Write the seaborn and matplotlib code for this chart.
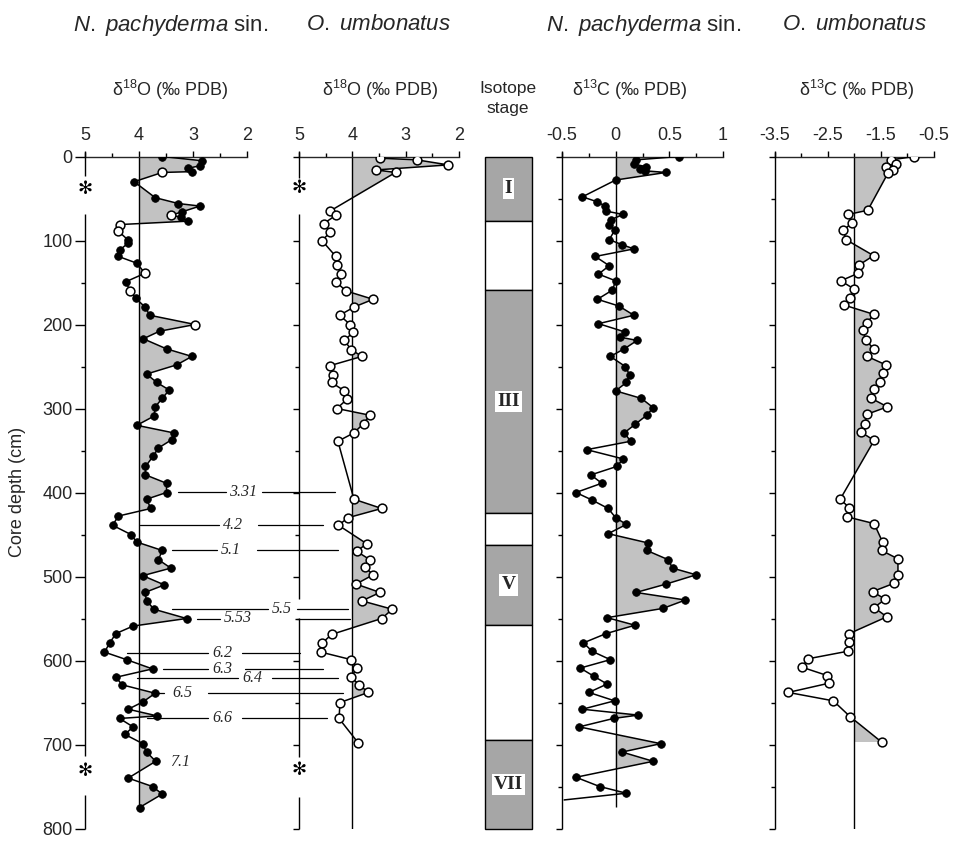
import numpy as np
import pandas as pd
import matplotlib
matplotlib.use("Agg")
import matplotlib.pyplot as plt
import seaborn as sns
from matplotlib.lines import Line2D
from matplotlib.transforms import blended_transform_factory

# ---------------- data ----------------
# N. pachyderma sin. delta18O (depth cm, permil PDB)
np18_depth = [0, 5, 11, 14, 18, 19, 30, 49, 56, 59,
              66, 70, 72, 77, 81, 89, 99, 103, 111, 119,
              127, 139, 149, 160, 169, 179, 189, 200, 208, 217,
              229, 238, 248, 259, 269, 278, 288, 298, 309, 320,
              329, 337, 347, 357, 369, 379, 389, 400, 408, 419,
              428, 439, 450, 459, 469, 480, 490, 499, 510, 519,
              529, 539, 550, 559, 568, 579, 590, 599, 610, 620,
              629, 639, 649, 658, 666, 669, 679, 688, 699, 709,
              720, 740, 750, 759, 775]
np18_value = [3.57, 2.84, 2.87, 3.09, 3.01, 3.57, 4.09, 3.70, 3.27, 2.87,
              3.21, 3.41, 3.22, 3.10, 4.35, 4.38, 4.21, 4.20, 4.35, 4.38,
              4.04, 3.89, 4.24, 4.17, 4.06, 3.89, 3.80, 2.96, 3.62, 3.92,
              3.49, 3.02, 3.30, 3.86, 3.67, 3.44, 3.57, 3.70, 3.72, 4.04,
              3.36, 3.39, 3.64, 3.74, 3.88, 3.88, 3.49, 3.49, 3.86, 3.78,
              4.38, 4.49, 4.15, 4.04, 3.57, 3.64, 3.41, 3.93, 3.53, 3.89,
              3.86, 3.72, 3.12, 4.11, 4.43, 4.54, 4.64, 4.23, 3.75, 4.43,
              4.31, 3.70, 3.92, 4.20, 3.66, 4.36, 4.11, 4.26, 3.93, 3.86,
              3.69, 4.20, 3.75, 3.57, 3.99]
np18_open_depths = [19, 70, 81, 89, 139, 160, 200]

# O. umbonatus delta18O
ou18_depth = [2, 4, 10, 16, 19, 65, 70, 80, 90, 100,
              119, 129, 140, 149, 160, 170, 179, 189, 200, 209,
              219, 230, 238, 249, 260, 269, 279, 289, 300, 308,
              318, 329, 339, 408, 419, 430, 439, 461, 470, 480,
              489, 498, 509, 519, 529, 539, 550, 569, 579, 590,
              599, 609, 620, 629, 638, 650, 669, 698]
ou18_value = [3.48, 2.79, 2.20, 3.56, 3.19, 4.42, 4.31, 4.54, 4.41, 4.57,
              4.31, 4.28, 4.21, 4.31, 4.12, 3.61, 3.96, 4.24, 4.04, 3.98,
              4.15, 4.02, 3.82, 4.42, 4.36, 4.39, 4.15, 4.10, 4.29, 3.67,
              3.79, 3.97, 4.27, 3.97, 3.45, 4.08, 4.26, 3.73, 3.92, 3.67,
              3.76, 3.61, 3.93, 3.48, 3.82, 3.25, 3.45, 4.39, 4.56, 4.59,
              4.02, 3.92, 4.02, 3.87, 3.70, 4.23, 4.25, 3.89]

# N. pachyderma sin. delta13C (last value: line end without symbol)
np13_depth = [0, 4, 9, 12, 15, 17, 19, 28, 48, 54,
              59, 65, 69, 75, 81, 88, 99, 105, 110, 119,
              130, 140, 148, 159, 170, 178, 189, 199, 209, 215,
              219, 229, 238, 250, 260, 269, 279, 288, 299, 308,
              319, 329, 339, 349, 360, 369, 379, 389, 400, 409,
              419, 430, 438, 449, 460, 469, 480, 490, 498, 509,
              519, 528, 538, 549, 558, 568, 579, 589, 599, 609,
              619, 628, 638, 648, 658, 665, 669, 679, 699, 709,
              720, 739, 750, 758, 766]
np13_value = [0.59, 0.19, 0.17, 0.28, 0.23, 0.27, 0.47, 0.00, -0.31, -0.17,
              -0.10, -0.09, 0.07, -0.04, -0.06, -0.01, -0.06, 0.06, 0.17, -0.19,
              -0.06, -0.16, 0.00, -0.03, -0.17, 0.03, 0.17, -0.16, 0.09, 0.04,
              0.20, 0.08, -0.05, 0.09, 0.13, 0.10, 0.00, 0.24, 0.35, 0.29,
              0.18, 0.08, 0.14, -0.27, 0.07, 0.01, -0.23, -0.13, -0.37, -0.22,
              -0.07, 0.00, 0.10, -0.07, 0.30, 0.29, 0.49, 0.53, 0.75, 0.47,
              0.19, 0.65, 0.44, -0.08, 0.18, -0.09, -0.30, -0.22, -0.05, -0.33,
              -0.20, -0.08, -0.25, -0.01, -0.31, 0.21, -0.02, -0.34, 0.42, 0.06,
              0.35, -0.37, -0.15, 0.10, -0.48]

# O. umbonatus delta13C
ou13_depth = [0, 4, 9, 12, 16, 20, 64, 69, 79, 88,
              99, 118, 129, 139, 148, 158, 168, 177, 188, 198,
              207, 218, 229, 238, 248, 258, 268, 277, 288, 298,
              307, 318, 328, 338, 408, 418, 429, 437, 459, 469,
              479, 498, 508, 518, 527, 537, 548, 568, 578, 589,
              598, 608, 618, 627, 638, 648, 667, 697]
ou13_value = [-0.87, -1.31, -1.22, -1.41, -1.28, -1.37, -1.75, -2.12, -2.05, -2.21,
              -2.16, -1.64, -1.91, -1.93, -2.26, -2.00, -2.08, -2.19, -1.63, -1.77,
              -1.84, -1.79, -1.64, -1.76, -1.41, -1.46, -1.52, -1.63, -1.68, -1.38,
              -1.77, -1.80, -1.88, -1.63, -2.27, -2.10, -2.14, -1.63, -1.47, -1.49,
              -1.18, -1.18, -1.25, -1.66, -1.42, -1.63, -1.39, -2.10, -2.10, -2.13,
              -2.88, -2.99, -2.51, -2.48, -3.25, -2.40, -2.08, -1.49]

# isotope stages
stage_names = ["I", "II", "III", "IV", "V", "VI", "VII"]
stage_top = [0, 77, 159, 424, 462, 558, 695]
stage_bottom = [77, 159, 424, 462, 558, 695, 800]
stage_glacial = [True, False, True, False, True, False, True]

# correlation (substage) labels
corr_labels = ["3.31", "4.2", "5.1", "5.5", "5.53", "6.2", "6.3", "6.4", "6.5", "6.6", "7.1"]
corr_depths = [399, 439, 469, 539, 550, 591, 610, 621, 639, 669, 721]

# tick labels
d18_ticks = [5, 4, 3, 2]
d18_ticklabels = ["5", "4", "3", "2"]
np13_ticks = [-0.5, 0, 0.5, 1]
np13_ticklabels = ["-0.5", "0", "0.5", "1"]
ou13_ticks = [-3.5, -2.5, -1.5, -0.5]
ou13_ticklabels = ["-3.5", "-2.5", "-1.5", "-0.5"]
depth_ticks = [0, 100, 200, 300, 400, 500, 600, 700, 800]
depth_ticklabels = ["0", "100", "200", "300", "400", "500", "600", "700", "800"]

# ---------------- style ----------------
sns.set_theme(style="ticks")
plt.rcParams['font.family'] = ['Liberation Sans', 'DejaVu Sans']
plt.rcParams['mathtext.fontset'] = 'custom'
plt.rcParams['mathtext.rm'] = 'Liberation Sans'
plt.rcParams['mathtext.it'] = 'Liberation Sans:italic'
plt.rcParams['mathtext.bf'] = 'Liberation Sans:bold'
plt.rcParams['axes.unicode_minus'] = False

FILL = '#c2c2c2'
STAGE = '#a6a6a6'

W, H = 954, 843
Y0, Y1 = 156.5, 828.5
fig = plt.figure(figsize=(W / 100, H / 100), dpi=100)


def add_px_axes(x0, x1):
    return fig.add_axes([x0 / W, 1 - Y1 / H, (x1 - x0) / W, (Y1 - Y0) / H])


def ftext(x, y, s, **kw):
    ha = kw.pop('ha', 'center')
    va = kw.pop('va', 'center')
    fig.text(x / W, 1 - y / H, s, ha=ha, va=va, **kw)


def draw_panel(ax, depth, value, ref, ref_end, xlim, ticks, ticklabels, minor,
               open_mask, spine_segments, asterisks, ytick_major, ytick_minor,
               show_ylabels=False, ymajor_len=4, marked=None):
    depth = np.asarray(depth, float)
    value = np.asarray(value, float)
    if marked is None:
        marked = np.ones(len(depth), bool)
    if xlim[0] > xlim[1]:
        where = value <= ref
    else:
        where = value >= ref
    ax.fill_betweenx(depth, ref, value, where=where, interpolate=True,
                     facecolor=FILL, edgecolor='none', lw=0, zorder=1)
    ax.vlines(ref, 0, ref_end, color='black', lw=1.0, zorder=2)
    sns.lineplot(x=value, y=depth, sort=False, estimator=None, color='black',
                 lw=1.1, ax=ax, zorder=3)
    filled = marked & ~open_mask
    opened = marked & open_mask
    if filled.any():
        sns.scatterplot(x=value[filled], y=depth[filled], ax=ax, s=30,
                        color='black', edgecolor='black', linewidth=0.6, zorder=4)
    if opened.any():
        sns.scatterplot(x=value[opened], y=depth[opened], ax=ax, s=40,
                        color='white', edgecolor='black', linewidth=1.1, zorder=5)
    ax.set_xlim(*xlim)
    ax.set_ylim(800, 0)
    ax.set_xlabel('')
    ax.set_ylabel('')
    for s in ['left', 'right', 'bottom']:
        ax.spines[s].set_visible(False)
    ax.spines['top'].set_visible(True)
    ax.spines['top'].set_linewidth(1.0)
    ax.patch.set_alpha(0)
    ax.xaxis.tick_top()
    ax.set_xticks(ticks)
    ax.set_xticklabels(ticklabels)
    ax.set_xticks(minor, minor=True)
    ax.tick_params(axis='x', which='major', top=True, bottom=False, direction='out',
                   length=4, width=1, labelsize=13, pad=5, labeltop=True,
                   labelbottom=False, color='black')
    ax.tick_params(axis='x', which='minor', top=True, bottom=False, direction='out',
                   length=3, width=1, color='black')
    ax.set_yticks(ytick_major)
    ax.set_yticks(ytick_minor, minor=True)
    if show_ylabels:
        ax.set_yticklabels(depth_ticklabels)
    else:
        ax.set_yticklabels([''] * len(ytick_major))
    ax.tick_params(axis='y', which='major', left=True, right=False, direction='out',
                   length=ymajor_len, width=1, labelsize=13, pad=2, color='black')
    ax.tick_params(axis='y', which='minor', left=True, right=False, direction='out',
                   length=3, width=1, color='black')
    for a, b in spine_segments:
        ax.plot([xlim[0], xlim[0]], [a, b], color='black', lw=1.0,
                clip_on=False, zorder=6, solid_capstyle='butt')
    for d in asterisks:
        ax.text(xlim[0], d, '\u273B', ha='center', va='center', fontsize=13,
                family='DejaVu Sans', color='black')
    ax.set_xlim(*xlim)
    ax.set_ylim(800, 0)


# ---------------- panels ----------------
ax1 = add_px_axes(85, 247)
draw_panel(ax1, np18_depth, np18_value, 4, 775, (5, 2), d18_ticks, d18_ticklabels,
           [4.5, 3.5, 2.5], np.isin(np18_depth, np18_open_depths),
           [(-5, 23), (69, 714), (760, 800)], [39, 731],
           depth_ticks, [150, 250, 350, 450, 550, 650],
           show_ylabels=True, ymajor_len=7)

ax2 = add_px_axes(299, 459)
draw_panel(ax2, ou18_depth, ou18_value, 4, 800, (5, 2), d18_ticks, d18_ticklabels,
           [4.5, 3.5, 2.5], np.ones(len(ou18_depth), bool),
           [(-5, 25), (69, 527), (549, 715), (762, 800)], [37, 730],
           depth_ticks, [150, 250, 350, 450, 550, 650])

ax4 = add_px_axes(562, 723)
np13_marked = np.arange(len(np13_depth)) < len(np13_depth) - 1
draw_panel(ax4, np13_depth, np13_value, 0, 774, (-0.5, 1), np13_ticks, np13_ticklabels,
           [-0.25, 0.25, 0.75], np.zeros(len(np13_depth), bool),
           [(-5, 800)], [], depth_ticks, list(range(50, 800, 100)),
           marked=np13_marked)

ax5 = add_px_axes(775, 934)
draw_panel(ax5, ou13_depth, ou13_value, -2, 800, (-3.5, -0.5), ou13_ticks, ou13_ticklabels,
           [-3.0, -2.0, -1.0], np.ones(len(ou13_depth), bool),
           [(-5, 800)], [], depth_ticks, list(range(50, 800, 100)))

# isotope stage column
axs = add_px_axes(485, 532)
heights = np.subtract(stage_bottom, stage_top)
cols = [STAGE if g else 'white' for g in stage_glacial]
bars = axs.bar(x=0.5, height=heights, bottom=stage_top, width=1.0, color=cols,
               edgecolor='black', linewidth=1.0)
for p in bars.patches:
    p.set_clip_on(False)
axs.set_xlim(0, 1)
axs.set_ylim(800, 0)
axs.axis('off')
for name, t, b, g in zip(stage_names, stage_top, stage_bottom, stage_glacial):
    if g:
        axs.text(0.5, (t + b) / 2, name, ha='center', va='center', fontsize=14,
                 family='Liberation Serif', weight='bold',
                 bbox=dict(facecolor='white', edgecolor='none', pad=1.5))

# correlation lines between panels 1 and 2 (pixel x layout)
tr = blended_transform_factory(fig.transFigure, ax1.transData)
corr_layout = {
    "3.31": ((178, 226), 243, (262, 335)),
    "4.2": ((140, 219), 233, (258, 323)),
    "5.1": ((172, 217), 231, (257, 338)),
    "5.5": ((172, 268), 282, (297, 348)),
    "5.53": ((197, 220), 238, (297, 350)),
    "6.2": ((127, 208), 222, (242, 300)),
    "6.3": ((163, 208), 222, (245, 323)),
    "6.4": ((137, 238), 252, (272, 338)),
    "6.5": ((155, 164), 182, (208, 343)),
    "6.6": ((147, 208), 222, (242, 327)),
    "7.1": (None, 180, None),
}
for lab, d in zip(corr_labels, corr_depths):
    left, tx, right = corr_layout[lab]
    for seg in (left, right):
        if seg is not None:
            fig.add_artist(Line2D([seg[0] / W, seg[1] / W], [d, d], transform=tr,
                                  color='black', lw=0.9, zorder=7))
    fig.text(tx / W, d, lab, transform=tr, ha='center', va='center',
             fontsize=11.5, family='Liberation Serif', style='italic', zorder=8)

# ---------------- text ----------------
ftext(171, 25, r'$\mathit{N.\ pachyderma}$ sin.', fontsize=16)
ftext(379, 25, r'$\mathit{O.\ umbonatus}$', fontsize=16)
ftext(644, 25, r'$\mathit{N.\ pachyderma}$ sin.', fontsize=16)
ftext(855, 25, r'$\mathit{O.\ umbonatus}$', fontsize=16)

ftext(170, 90, 'δ$^{18}$O (‰ PDB)', fontsize=13)
ftext(380, 90, 'δ$^{18}$O (‰ PDB)', fontsize=13)
ftext(630, 90, 'δ$^{13}$C (‰ PDB)', fontsize=13)
ftext(857, 90, 'δ$^{13}$C (‰ PDB)', fontsize=13)
ftext(508, 89, 'Isotope', fontsize=12.5)
ftext(508, 108, 'stage', fontsize=12.5)

ftext(18, 492, 'Core depth (cm)', fontsize=13, rotation=90)

fig.savefig('out.png', dpi=100)
